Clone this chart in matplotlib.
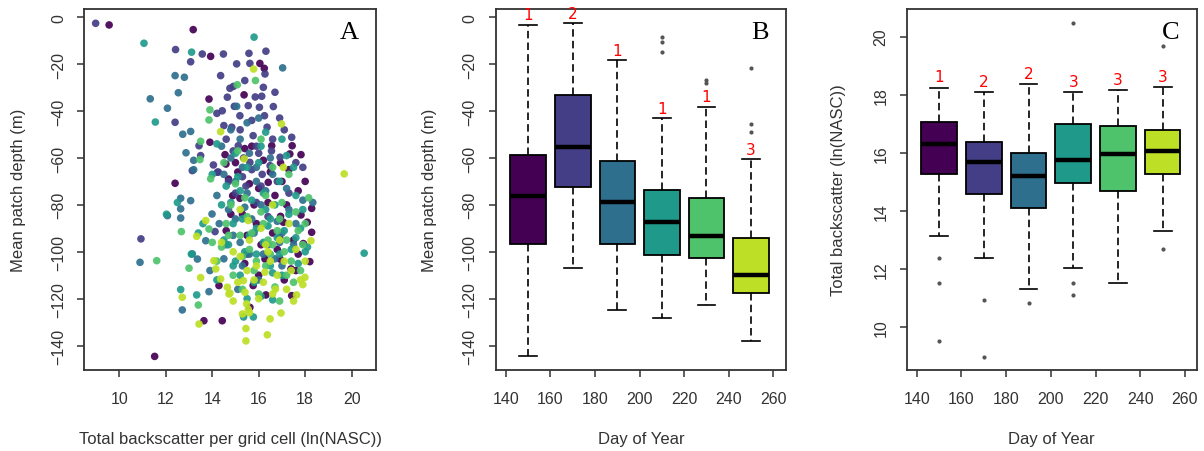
import numpy as np
import matplotlib.pyplot as plt

plt.rcParams['font.family'] = ['Liberation Sans', 'DejaVu Sans']

days = [150, 170, 190, 210, 230, 250]
colors = plt.cm.viridis(np.linspace(0, 0.9, 6))

# patches: (total backscatter ln(NASC), mean depth m), one list per survey day
pts_150 = [(9.56, -3.3), (13.18, -5.3), (13.93, -16.7), (13.86, -34.9), (13.9, -53.3), (14.55, -58.6),
           (14.59, -62.6), (12.4, -70.8), (16.05, -19.7), (16.24, -21.8), (15.37, -33.1), (17.34, -58.3),
           (17.82, -58.6), (16.94, -62.1), (16.41, -70.4), (16.56, -54.8), (17.44, -54.8), (18.28, -81.5),
           (18.09, -87.4), (17.82, -84.3), (16.94, -84.9), (16.27, -103.1), (16.92, -103.1), (18.2, -104.2),
           (17.92, -96.5), (17.39, -107.3), (17.42, -118.7), (16.31, -118.4), (15.76, -114.4), (15.62, -123.7),
           (15.19, -77.2), (14.88, -76.1), (17.6, -108.0), (17.06, -87.4), (18.28, -91.7), (14.29, -114.4),
           (13.64, -129.4), (14.43, -129.4), (11.52, -144.6), (15.1, -66.0), (15.6, -71.0), (16.0, -73.0),
           (16.7, -76.0), (17.2, -80.0), (15.9, -88.0), (16.6, -92.0), (17.5, -95.0), (16.2, -61.0),
           (15.4, -56.0), (16.8, -99.0), (17.1, -112.0), (15.3, -84.0), (16.5, -66.0), (17.7, -74.0),
           (16.1, -97.0), (15.5, -93.0), (14.8, -84.0), (15.7, -55.0), (17.0, -70.0), (16.4, -79.0),
           (15.0, -62.0), (16.9, -94.0), (17.7, -101.0), (15.4, -105.0), (16.0, -110.0), (14.7, -69.0),
           (17.3, -65.0), (18.0, -70.0), (15.8, -80.0), (14.6, -91.0)]
pts_170 = [(8.98, -2.6), (10.93, -94.5), (12.42, -13.8), (13.57, -15.7), (14.48, -15.7), (13.07, -19.0),
           (14.36, -24.9), (12.4, -44.8), (14.76, -30.3), (14.65, -34.1), (14.43, -39.9), (13.43, -54.8),
           (14.5, -46.2), (13.14, -65.4), (14.22, -66.1), (13.5, -59.0), (16.31, -14.5), (15.58, -15.4),
           (15.05, -19.9), (16.27, -24.2), (15.62, -19.7), (16.2, -29.9), (16.7, -32.0), (16.13, -33.7),
           (16.63, -38.1), (16.03, -38.4), (15.55, -37.7), (14.91, -29.5), (15.19, -42.0), (14.84, -46.9),
           (15.76, -50.5), (16.36, -46.9), (16.92, -59.7), (15.12, -54.8), (15.62, -61.9), (16.49, -63.3),
           (17.42, -51.2), (14.05, -63.0), (14.26, -66.0), (15.9, -55.0), (16.6, -52.0), (15.3, -68.0),
           (16.1, -72.0), (17.6, -62.0), (15.0, -75.0), (16.8, -70.0), (14.7, -70.0), (17.9, -64.0),
           (14.12, -91.4), (15.5, -101.0), (16.4, -85.0), (15.9, -79.0), (17.3, -75.0), (14.2, -41.0),
           (15.4, -27.0), (15.2, -48.0), (16.0, -58.0), (14.6, -52.0), (15.7, -44.0), (16.9, -43.0),
           (15.35, -60.0), (16.25, -42.0), (14.9, -57.0), (15.85, -34.0), (16.55, -57.0), (15.45, -72.0),
           (17.1, -48.0), (14.95, -38.0), (16.15, -67.0), (15.7, -65.0)]
pts_190 = [(12.4, -24.9), (12.8, -25.6), (12.54, -32.2), (11.33, -34.8), (12.07, -38.8), (12.73, -49.9),
           (13.07, -48.7), (12.87, -57.8), (13.2, -61.0), (13.2, -65.0), (12.64, -77.2), (13.07, -78.2),
           (12.64, -81.7), (12.64, -85.6), (12.07, -84.6), (10.89, -104.5), (13.14, -100.9), (13.36, -103.1),
           (13.72, -95.3), (13.86, -117.0), (12.71, -124.8), (13.99, -83.9), (17.03, -21.6), (15.0, -70.0),
           (15.5, -75.0), (14.7, -82.0), (16.1, -80.0), (15.8, -92.0), (14.3, -88.0), (16.4, -97.0),
           (15.2, -96.0), (17.2, -73.0), (17.9, -78.0), (18.33, -79.0), (17.6, -88.0), (16.8, -87.0),
           (15.9, -64.0), (14.8, -60.0), (15.6, -58.0), (16.6, -67.0), (14.2, -76.0), (15.3, -106.0),
           (14.5, -103.0), (16.0, -112.0), (17.0, -106.0), (15.1, -116.0), (13.9, -108.0), (14.8, -48.0),
           (15.2, -52.0), (16.0, -43.0), (15.5, -45.0), (14.4, -55.0), (17.0, -92.0), (16.2, -101.0),
           (15.05, -38.0), (14.9, -93.0), (15.7, -86.0), (16.5, -60.0), (14.6, -97.0), (17.5, -97.0),
           (15.4, -81.0), (16.3, -74.0), (15.0, -86.0), (16.7, -103.0), (14.5, -67.0), (15.6, -101.0),
           (17.3, -82.0), (15.9, -70.0), (16.9, -96.0), (15.3, -64.0)]
pts_210 = [(11.06, -11.1), (15.8, -8.5), (13.11, -14.9), (20.54, -100.6), (11.55, -44.7), (12.64, -116.1),
           (13.33, -118.4), (15.35, -127.8), (15.77, -127.8), (16.6, -120.5), (15.2, -74.0), (15.7, -78.0),
           (16.3, -82.0), (14.9, -88.0), (15.9, -90.0), (16.8, -94.0), (17.4, -99.0), (16.2, -96.0),
           (15.4, -100.0), (14.7, -97.0), (15.0, -104.0), (16.5, -106.0), (17.3, -84.0), (17.8, -90.0),
           (18.0, -100.0), (16.0, -62.0), (15.5, -64.0), (14.6, -72.0), (16.9, -70.0), (17.6, -76.0),
           (14.4, -80.0), (13.6, -88.0), (13.4, -92.0), (16.6, -109.0), (15.8, -113.0), (14.2, -112.0),
           (15.0, -58.0), (16.1, -55.0), (17.0, -52.0), (14.2, -54.0), (17.5, -64.0), (15.3, -86.0),
           (16.7, -80.0), (18.1, -98.0), (17.0, -110.0), (15.5, -120.0), (16.1, -119.0), (14.5, -95.0),
           (17.7, -105.0), (13.1, -101.0), (12.5, -79.0), (12.03, -84.0), (14.0, -67.0), (15.9, -101.0),
           (16.4, -89.0), (17.9, -82.0), (17.2, -59.0), (16.3, -49.0), (15.6, -93.0), (16.2, -75.0),
           (14.8, -79.0), (17.1, -91.0), (15.2, -110.0), (16.9, -101.0), (15.1, -68.0), (17.6, -94.0),
           (14.9, -106.0), (16.5, -86.0)]
pts_230 = [(11.61, -103.8), (15.86, -27.0), (15.08, -28.8), (13.9, -39.5), (13.93, -68.9), (13.86, -43.8),
           (13.5, -52.9), (13.47, -60.7), (12.67, -91.4), (13.0, -107.0), (13.4, -122.7), (13.86, -90.3),
           (14.8, -80.0), (15.5, -85.0), (16.2, -88.0), (16.8, -91.0), (17.2, -95.0), (17.9, -97.0),
           (15.2, -93.0), (14.4, -98.0), (16.5, -101.0), (15.9, -104.0), (17.4, -104.0), (17.0, -79.0),
           (16.3, -76.0), (15.6, -99.0), (14.9, -110.0), (16.7, -115.0), (17.6, -83.0), (18.0, -88.0),
           (15.3, -116.0), (14.0, -96.0), (16.0, -118.0), (16.9, -121.0), (17.5, -113.0), (15.0, -71.0),
           (16.6, -64.0), (17.3, -67.0), (14.2, -104.0), (18.15, -77.0), (15.8, -108.0), (16.4, -95.0),
           (14.6, -88.0), (15.1, -57.0), (16.1, -52.0), (17.1, -100.0), (15.7, -92.0), (14.5, -62.0),
           (17.8, -108.0), (16.9, -86.0), (15.4, -77.0), (16.6, -97.0), (17.7, -91.0), (15.3, -102.0),
           (16.1, -83.0), (14.7, -93.0), (17.2, -110.0), (16.3, -106.0)]
pts_250 = [(15.78, -22.1), (16.98, -45.5), (14.36, -48.8), (19.68, -66.8), (15.37, -60.4), (17.06, -64.0),
           (12.71, -119.4), (13.43, -130.8), (13.72, -86.7), (13.33, -93.4), (14.15, -107.3), (14.36, -111.6),
           (14.65, -115.1), (14.72, -118.0), (14.07, -103.8), (15.41, -117.3), (15.48, -122.2), (15.55, -124.5),
           (16.49, -128.6), (16.37, -135.4), (15.45, -138.0), (15.45, -132.7), (16.96, -126.1), (17.63, -118.4),
           (17.99, -110.9), (18.25, -95.3), (16.72, -115.9), (16.2, -113.0), (16.27, -108.7), (15.55, -86.7),
           (15.34, -112.3), (14.76, -117.6), (15.6, -95.0), (16.4, -100.0), (17.1, -104.0), (16.8, -110.0),
           (17.4, -108.0), (17.8, -112.0), (15.9, -106.0), (15.2, -102.0), (16.0, -120.0), (15.6, -126.0),
           (15.3, -126.5), (17.2, -116.0), (16.6, -118.0), (18.0, -104.0), (16.3, -97.0), (14.9, -100.0),
           (17.6, -99.0), (15.8, -112.0), (17.9, -114.0), (16.1, -90.0), (17.3, -88.0), (13.5, -111.0),
           (14.9, -121.0), (16.6, -80.0), (15.2, -82.0), (15.5, -108.0), (16.9, -95.0), (17.5, -121.0),
           (15.1, -113.0), (16.5, -104.0), (14.4, -96.0)]
patches = [pts_150, pts_170, pts_190, pts_210, pts_230, pts_250]

# depth summaries per day
depth_lo = [-144.5, -107.0, -124.8, -128.3, -122.6, -138.0]
depth_q1 = [-96.6, -72.5, -96.6, -101.3, -102.5, -117.7]
depth_med = [-76.3, -55.2, -78.7, -87.4, -93.4, -109.8]
depth_q3 = [-58.6, -33.0, -61.4, -73.6, -77.0, -94.1]
depth_hi = [-3.2, -2.6, -18.3, -43.0, -38.1, -60.5]
depth_out = [[], [], [], [-8.3, -10.4, -14.9], [-26.6, -28.0], [-21.7, -45.5, -48.8]]
depth_grp = ['1', '2', '1', '1', '1', '3']

# backscatter summaries per day
nasc_lo = [13.14, 12.40, 11.33, 12.03, 11.54, 13.31]
nasc_q1 = [15.26, 14.57, 14.10, 14.95, 14.69, 15.28]
nasc_med = [16.29, 15.69, 15.22, 15.74, 15.97, 16.06]
nasc_q3 = [17.07, 16.38, 16.01, 16.98, 16.92, 16.80]
nasc_hi = [18.24, 18.08, 18.36, 18.08, 18.15, 18.25]
nasc_out = [[12.39, 11.54, 9.53], [10.95, 8.99], [10.85], [20.48, 11.54, 11.11], [], [19.68, 12.71]]
nasc_grp = ['1', '2', '2', '3', '3', '3']

fig = plt.figure(figsize=(12.04, 4.52), dpi=100)
axA = fig.add_axes([0.0698, 0.1792, 0.2425, 0.7987])
axB = fig.add_axes([0.4117, 0.1792, 0.2411, 0.7987])
axC = fig.add_axes([0.7531, 0.1792, 0.2409, 0.7987])

grey = '#333333'


def style(ax, letter, lx):
    for s in ax.spines.values():
        s.set_color(grey)
        s.set_linewidth(1.3)
    ax.tick_params(length=5, width=1.1, color=grey, labelcolor=grey, labelsize=11.5, pad=10)
    ax.tick_params(axis='y', labelrotation=90, pad=8)
    for lab in ax.get_yticklabels():
        lab.set_va('center')
    ax.xaxis.label.set_color(grey)
    ax.yaxis.label.set_color(grey)
    ax.xaxis.label.set_fontsize(12)
    ax.yaxis.label.set_fontsize(12)
    ax.xaxis.set_label_coords(0.5, -0.191)
    ax.yaxis.set_label_coords(lx, 0.5)
    ax.xaxis.label.set_va('center')
    ax.yaxis.label.set_va('center')
    ax.text(0.91, 0.936, letter, transform=ax.transAxes, fontsize=19,
            family='Liberation Serif', ha='center', va='center')


# A: scatter coloured by day
for pts, c in zip(patches, colors):
    xy = np.array(pts)
    axA.scatter(xy[:, 0], xy[:, 1], s=30, color=c, alpha=0.92, edgecolors='none')
axA.set_xlim(8.48, 21.05)
axA.set_ylim(-150.4, 3.5)
axA.set_xticks(range(10, 21, 2))
axA.set_yticks(range(-140, 1, 20))
axA.set_xlabel('Total backscatter per grid cell (ln(NASC))')
axA.set_ylabel('Mean patch depth (m)')
style(axA, 'A', -0.226)


def boxes(ax, lo, q1, med, q3, hi, out, grp, off):
    stats = [dict(whislo=a, q1=b, med=m, q3=d, whishi=e, fliers=f)
             for a, b, m, d, e, f in zip(lo, q1, med, q3, hi, out)]
    bp = ax.bxp(stats, positions=days, widths=16, capwidths=8, patch_artist=True,
                manage_ticks=False,
                boxprops=dict(edgecolor='black', linewidth=1.3),
                medianprops=dict(color='black', linewidth=3.2),
                whiskerprops=dict(color='black', linewidth=1.2, linestyle=(0, (4.5, 2.5))),
                capprops=dict(color='black', linewidth=1.2),
                flierprops=dict(marker='o', markersize=3, markerfacecolor='#555555',
                                markeredgecolor='none'))
    for patch, c in zip(bp['boxes'], colors):
        patch.set_facecolor(c)
    for d, h, g in zip(days, hi, grp):
        ax.annotate(g, (d, h), xytext=(0, off), textcoords='offset points', ha='center',
                    va='center', color='red', fontsize=11, family='DejaVu Sans')


# B: depth by day
boxes(axB, depth_lo, depth_q1, depth_med, depth_q3, depth_hi, depth_out, depth_grp, 7)
axB.set_xlim(135.4, 265.7)
axB.set_ylim(-150.4, 3.5)
axB.set_xticks(range(140, 261, 20))
axB.set_yticks(range(-140, 1, 20))
axB.set_xlabel('Day of Year')
axB.set_ylabel('Mean patch depth (m)')
style(axB, 'B', -0.227)

# C: backscatter by day
boxes(axC, nasc_lo, nasc_q1, nasc_med, nasc_q3, nasc_hi, nasc_out, nasc_grp, 8)
axC.set_xlim(135.5, 265.3)
axC.set_ylim(8.53, 20.95)
axC.set_xticks(range(140, 261, 20))
axC.set_yticks(range(10, 21, 2))
axC.set_xlabel('Day of Year')
axC.set_ylabel('Total backscatter (ln(NASC))')
style(axC, 'C', -0.234)

fig.savefig('out.png', dpi=100)
